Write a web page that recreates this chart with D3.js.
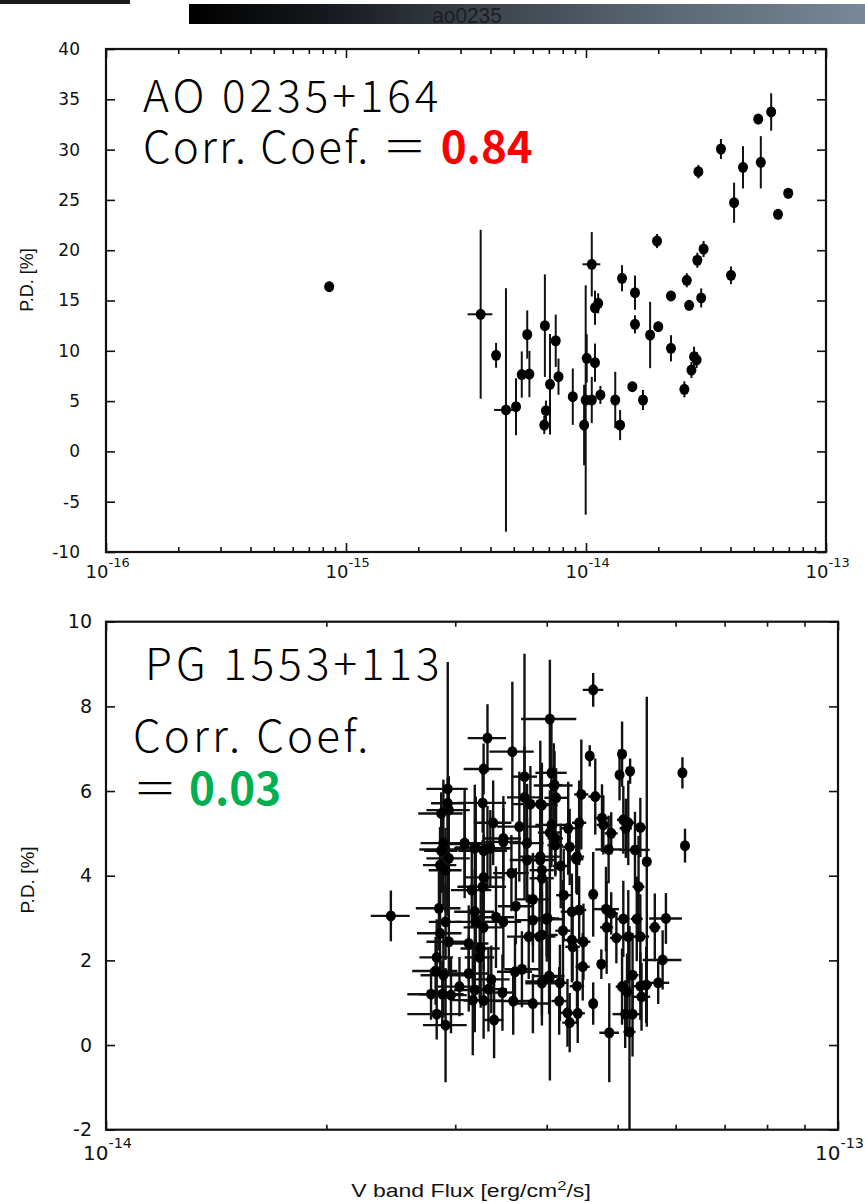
<!DOCTYPE html>
<html><head><meta charset="utf-8">
<script src="https://cdn.jsdelivr.net/npm/d3@7"></script>
<style>body{margin:0;background:#fff}svg{display:block}</style>
</head><body>
<svg id="c" width="865" height="1203"></svg>
<script>
// ---------------- DATA ----------------
// AO 0235+164 : V band flux [erg/cm2/s], polarization degree [%]
const aoFlux = [8.51e-16,3.64e-15,4.22e-15,4.64e-15,5.11e-15,5.40e-15,5.69e-15,5.81e-15,6.74e-15,7.48e-15,
  7.08e-15,6.81e-15,6.70e-15,7.68e-15,8.81e-15,1.007e-14,9.82e-15,9.97e-15,1.057e-14,1.09e-14,
  1.057e-14,1.09e-14,1.124e-14,1.148e-14,1.324e-14,1.387e-14,1.413e-14,1.60e-14,1.60e-14,1.56e-14,
  1.728e-14,1.85e-14,2.0e-14,1.977e-14,2.26e-14,2.26e-14,2.63e-14,2.69e-14,2.57e-14,2.82e-14,
  2.89e-14,2.75e-14,3.02e-14,2.91e-14,3.09e-14,2.94e-14,3.65e-14,4.02e-14,4.14e-14,4.51e-14,
  5.22e-14,5.35e-14,5.91e-14,6.31e-14,6.96e-14];
const aoPD = [16.37,13.63,9.55,4.12,4.44,7.64,11.62,7.69,12.5,11.0,
  6.67,4.05,2.62,7.43,5.44,9.25,2.62,5.11,5.11,8.82,
  18.6,14.28,14.72,5.61,5.11,2.62,17.21,15.78,12.63,6.43,
  5.11,11.57,12.4,20.91,15.45,10.25,17.01,14.52,6.17,9.41,
  9.09,8.09,15.25,19.0,20.12,27.8,30.06,17.5,24.72,28.24,
  33.04,28.74,33.74,23.57,25.66];
const aoPDErr = [0.5,8.4,1.24,12.1,2.83,2.3,2.4,2.3,5.1,2.6,
  5.0,1.0,0.9,1.8,2.8,2.4,4.0,11.4,2.3,1.9,
  3.2,1.7,1.0,0.9,2.8,1.5,1.3,1.7,0.9,0.5,
  1.0,3.3,0.5,0.7,0.5,1.3,0.7,0.5,0.8,1.0,
  0.8,0.8,0.95,0.75,0.8,0.67,1.0,0.87,2.0,2.1,
  0.5,2.6,1.86,0.5,0.5];
const aoFluxErr = [0,0.43e-15,0,0.5e-15,0,0,0,0,0,0,
  0,0,0,0,0,0,0,0,0,0,
  0.09e-14,0,0,0,0,0,0,0,0,0,
  0,0,0,0,0,0,0,0,0,0,
  0,0,0,0,0,0,0,0,0,0,
  0,0,0,0,0];

// PG 1553+113 : flux in units of 1e-14 erg/cm2/s
const pgFluxUnit = 1e-14;
const pgFlux = [2.93,2.93,2.87,2.94,3.32,3.28,3.59,4.04,3.73,3.27,
  3.38,3.73,3.80,3.92,4.06,4.09,3.09,3.19,3.28,3.35,
  3.49,3.67,3.76,2.89,2.87,4.06,3.92,4.63,4.58,5.07,
  5.03,5.20,5.48,6.13,6.18,4.10,4.12,3.94,4.46,4.66,
  4.43,4.76,4.78,4.90,5.09,5.17,5.13,5.37,4.28,4.30,
  4.04,4.11,4.86,5.28,4.40,4.39,4.18,4.11,3.94,5.34,
  4.63,4.22,3.94,4.82,4.90,4.33,4.43,4.00,5.09,5.31,
  5.82,4.83,4.98,5.17,5.37,5.62,4.21,4.33,4.49,4.34,
  3.94,4.75,4.48,5.76,5.24,5.07,5.37,5.68,5.47,5.15,
  5.39,4.04,4.17,4.40,3.94,4.16,4.63,4.27,4.41,4.30,
  5.12,5.24,4.87,5.19,2.45,2.85,2.91,2.86,2.94,2.83,
  2.82,2.89,2.78,2.88,2.96,2.83,2.91,2.88,2.94,2.86,
  2.91,3.09,3.20,3.32,3.49,3.28,3.58,3.16,3.27,3.19,
  3.41,3.63,3.76,3.92,3.83,3.20,3.28,3.78,3.91,4.00,
  3.13,3.25,3.24,3.13,3.04,3.19,3.36,3.33,3.48,3.62,
  3.70,3.60,3.83,3.94,4.03,3.17,3.28,3.39,3.49,3.83,4.01];
const pgPD = [6.05,5.71,5.47,5.55,7.25,6.52,6.93,7.70,6.34,5.72,
  5.25,5.85,5.69,5.69,6.43,6.13,4.77,4.65,4.59,4.65,
  4.88,5.16,4.77,4.77,4.59,5.20,4.45,8.39,6.83,6.87,
  6.38,6.47,4.33,6.43,4.71,6.14,5.84,5.67,5.92,5.87,
  5.25,5.36,5.20,5.00,5.32,5.25,5.12,5.14,5.12,4.68,
  5.02,4.88,4.62,4.61,4.45,4.39,4.23,4.72,4.13,3.74,
  3.56,3.54,3.94,3.21,3.11,3.15,3.19,2.99,2.98,2.98,
  2.99,2.78,2.53,2.56,2.56,2.78,2.70,2.48,2.44,2.32,
  2.60,1.91,1.85,2.01,1.65,1.38,1.39,1.47,1.42,1.26,
  1.14,1.61,1.47,1.39,1.46,1.04,0.98,0.76,0.75,0.53,
  0.73,0.73,0.29,0.31,3.05,3.23,2.91,2.64,2.44,2.07,
  1.75,1.65,1.20,1.20,1.18,0.73,0.47,4.62,4.41,4.25,
  4.13,4.75,4.67,4.65,4.80,3.96,4.06,3.66,3.74,3.15,
  3.02,3.28,4.37,4.37,3.44,2.91,2.78,2.56,2.56,2.97,
  2.40,2.28,2.07,1.69,1.38,1.30,1.55,1.32,1.24,1.73,
  1.79,1.04,0.98,1.50,1.63,1.06,1.05,0.59,2.91,2.95,2.99];
const pgFluxErr = [0.19,0.15,0.20,0.20,0.20,0.20,0.25,0.35,0.15,0.25,
  0.20,0.20,0.20,0.20,0.20,0.25,0.20,0.20,0.25,0.20,
  0.20,0.25,0.20,0.20,0.15,0.20,0.25,0.15,0.05,0.05,
  0.05,0.05,0.05,0.05,0.05,0.10,0.15,0.20,0.10,0.10,
  0.10,0.10,0.10,0.10,0.10,0.10,0.10,0.10,0.10,0.10,
  0.15,0.10,0.20,0.25,0.10,0.10,0.10,0.10,0.15,0.10,
  0.05,0.10,0.15,0.20,0.10,0.15,0.10,0.10,0.10,0.10,
  0.30,0.10,0.10,0.20,0.15,0.10,0.10,0.10,0.10,0.10,
  0.20,0.05,0.10,0.35,0.10,0.10,0.15,0.20,0.10,0.10,
  0.15,0.10,0.10,0.10,0.20,0.10,0.05,0.10,0.10,0.10,
  0.20,0.15,0.15,0.10,0.15,0.20,0.15,0.20,0.20,0.15,
  0.20,0.20,0.20,0.20,0.15,0.25,0.20,0.20,0.20,0.15,
  0.15,0.20,0.20,0.25,0.20,0.20,0.20,0.20,0.25,0.20,
  0.20,0.20,0.20,0.20,0.20,0.20,0.20,0.25,0.20,0.20,
  0.20,0.20,0.15,0.20,0.20,0.20,0.20,0.20,0.15,0.20,
  0.20,0.20,0.20,0.20,0.20,0.20,0.20,0.10,0.20,0.20,0.15];
const pgPDErr = [3.0,0.6,0.5,0.8,0.8,0.6,1.65,1.4,2.9,0.7,
  1.0,1.2,0.9,1.5,1.2,1.0,1.3,1.5,1.2,0.9,
  1.0,1.3,1.4,1.5,1.0,1.0,1.1,0.4,0.25,0.77,
  0.6,0.3,3.9,0.37,0.4,0.8,0.7,1.0,1.3,0.9,
  1.0,0.8,0.7,0.5,0.8,1.0,0.7,0.7,1.1,0.9,
  1.0,0.9,0.8,0.9,0.9,0.8,1.0,0.7,1.0,1.2,
  1.0,1.1,1.0,1.0,0.5,0.9,0.8,0.9,0.9,1.0,
  0.6,1.1,0.6,1.1,1.0,0.8,1.2,1.0,0.9,0.8,
  1.0,0.35,0.8,0.7,1.0,0.9,0.8,0.5,0.9,0.9,
  0.8,2.45,0.9,0.9,1.0,0.8,0.5,0.8,0.7,0.7,
  0.8,1.0,1.17,2.5,0.6,1.0,0.9,1.0,0.8,0.9,
  0.8,1.0,0.6,0.8,0.9,0.6,1.35,1.0,1.2,0.9,
  1.0,1.0,1.2,1.0,0.8,1.0,0.9,0.9,1.1,1.0,
  1.2,0.9,1.0,0.9,1.1,0.9,1.0,1.0,0.9,1.0,
  0.9,1.4,1.0,0.9,0.7,1.0,0.8,1.0,0.9,0.8,
  0.9,0.8,0.7,0.8,0.9,1.3,0.9,0.9,1.1,1.0,0.9];

const aoYTicks = [-10,-5,0,5,10,15,20,25,30,35,40];
const pgYTicks = [-2,0,2,4,6,8,10];
const yLabel = "P.D. [%]";
const xLabel = "V band Flux [erg/cm";

// ---------------- DRAW ----------------
const svg = d3.select("#c");
const defs = svg.append("defs");
const tickFont = "DejaVu Sans, Liberation Sans, sans-serif";
const titleFont = "'Noto Sans CJK JP', 'Noto Sans', sans-serif";
const fmtHyphen = d => String(d); // plain hyphen-minus as in the original

// header bars
const grad = defs.append("linearGradient").attr("id","hdr").attr("x1","0").attr("x2","1").attr("y1","0").attr("y2","0");
[[0,"#000000"],[0.2,"#15181c"],[0.42,"#3a4148"],[0.7,"#5a6774"],[1,"#768899"]].forEach(s=>
  grad.append("stop").attr("offset",s[0]).attr("stop-color",s[1]));
svg.append("rect").attr("x",0).attr("y",0).attr("width",130).attr("height",4).attr("fill","#1c1a1a");
svg.append("rect").attr("x",189).attr("y",4).attr("width",676).attr("height",20).attr("fill","url(#hdr)");
svg.append("text").attr("transform","translate(467,23) scale(0.95,1)").attr("text-anchor","middle")
  .attr("font-family","'Liberation Sans', sans-serif").attr("font-size",22)
  .attr("fill","#1c1e21").text("ao0235");

function panel(cfg){
  const x = d3.scaleLog().domain(cfg.xDomain).range([cfg.left, cfg.right]);
  const y = d3.scaleLinear().domain(cfg.yDomain).range([cfg.bottom, cfg.top]);
  const g = svg.append("g");
  defs.append("clipPath").attr("id", cfg.id+"clip").append("rect")
    .attr("x",cfg.left).attr("y",cfg.top).attr("width",cfg.right-cfg.left).attr("height",cfg.bottom-cfg.top);

  const lo = Math.round(Math.log10(cfg.xDomain[0])), hi = Math.round(Math.log10(cfg.xDomain[1]));
  const xt = [];
  for(let d=lo; d<hi; d++) for(let k=1;k<=9;k++) xt.push(k*Math.pow(10,d));
  xt.push(Math.pow(10,hi));
  const isMajor = v => Math.abs(Math.log10(v) - Math.round(Math.log10(v))) < 1e-9;

  // bottom x axis
  const gb = g.append("g").attr("transform",`translate(0,${cfg.bottom})`)
    .call(d3.axisBottom(x).tickValues(xt).tickSize(-cfg.tickLen).tickSizeOuter(0).tickFormat(""));
  gb.select(".domain").remove();
  gb.selectAll(".tick line").attr("stroke","#111").attr("stroke-width",1.6);
  gb.selectAll(".tick").filter(d=>!isMajor(d)).select("line").attr("y2",-cfg.minorLen);
  const maj = gb.selectAll(".tick").filter(d=>isMajor(d));
  maj.append("text").attr("x",2).attr("y",cfg.xLabDy).attr("text-anchor","end")
    .attr("font-family",tickFont).attr("font-size",cfg.xFs).attr("fill","#111").text("10");
  maj.append("text").attr("x",2).attr("y",cfg.xLabDy-cfg.xFs*0.6).attr("text-anchor","start")
    .attr("font-family",tickFont).attr("font-size",cfg.xFs*0.72).attr("fill","#111")
    .text(d=>fmtHyphen(Math.round(Math.log10(d))));
  // top x axis
  const gt = g.append("g").attr("transform",`translate(0,${cfg.top})`)
    .call(d3.axisTop(x).tickValues(xt).tickSize(-cfg.tickLen).tickSizeOuter(0).tickFormat(""));
  gt.select(".domain").remove();
  gt.selectAll(".tick line").attr("stroke","#111").attr("stroke-width",1.6);
  gt.selectAll(".tick").filter(d=>!isMajor(d)).select("line").attr("y2",cfg.minorLen);
  // left y axis
  const gl = g.append("g").attr("transform",`translate(${cfg.left},0)`)
    .call(d3.axisLeft(y).tickValues(cfg.yTicks).tickSize(-cfg.tickLen).tickSizeOuter(0).tickPadding(cfg.yPad).tickFormat(fmtHyphen));
  gl.select(".domain").remove();
  gl.selectAll(".tick line").attr("stroke","#111").attr("stroke-width",1.6);
  gl.selectAll(".tick text").attr("font-family",tickFont).attr("font-size",cfg.yFs).attr("fill","#111");
  // right y axis
  const gr = g.append("g").attr("transform",`translate(${cfg.right},0)`)
    .call(d3.axisRight(y).tickValues(cfg.yTicks).tickSize(-cfg.tickLen).tickSizeOuter(0).tickFormat(""));
  gr.select(".domain").remove();
  gr.selectAll(".tick line").attr("stroke","#111").attr("stroke-width",1.6);
  // frame
  g.append("rect").attr("x",cfg.left).attr("y",cfg.top).attr("width",cfg.right-cfg.left).attr("height",cfg.bottom-cfg.top)
    .attr("fill","none").attr("stroke","#111").attr("stroke-width",2.2);
  // y label
  g.append("text").attr("transform",`translate(${cfg.yLabX},${cfg.yLabY}) rotate(-90)`).attr("text-anchor","middle")
    .attr("font-family","Liberation Sans, Arial, sans-serif").attr("font-size",cfg.yLabFs).attr("fill","#111").text(yLabel);

  // data
  const pts = cfg.flux.map((f,i)=>({f, p:cfg.pd[i], fe:cfg.fluxErr[i], pe:cfg.pdErr[i]}));
  const dg = g.append("g").attr("clip-path",`url(#${cfg.id}clip)`);
  dg.selectAll("line.v").data(pts).join("line").attr("class","v")
    .attr("x1",d=>x(d.f)).attr("x2",d=>x(d.f)).attr("y1",d=>y(d.p-d.pe)).attr("y2",d=>y(d.p+d.pe))
    .attr("stroke","#111").attr("stroke-width",cfg.sw);
  dg.selectAll("line.h").data(pts.filter(d=>d.fe>0)).join("line").attr("class","h")
    .attr("x1",d=>x(d.f-d.fe)).attr("x2",d=>x(d.f+d.fe)).attr("y1",d=>y(d.p)).attr("y2",d=>y(d.p))
    .attr("stroke","#111").attr("stroke-width",cfg.sw);
  dg.selectAll("ellipse").data(pts).join("ellipse")
    .attr("cx",d=>x(d.f)).attr("cy",d=>y(d.p)).attr("rx",cfg.r).attr("ry",cfg.r*1.1).attr("fill","#000");
  return {x,y};
}

panel({id:"ao", left:106, right:826, top:49, bottom:552, xDomain:[1e-16,1e-13], yDomain:[-10,40],
  yTicks:aoYTicks, tickLen:9, minorLen:5, xLabDy:26, xFs:18, yFs:17, yPad:26,
  yLabX:33, yLabY:280, yLabFs:18, flux:aoFlux, pd:aoPD, fluxErr:aoFluxErr, pdErr:aoPDErr, r:5, sw:2});

panel({id:"pg", left:106, right:838, top:621.7, bottom:1129.7, xDomain:[1e-14,1e-13], yDomain:[-2,10],
  yTicks:pgYTicks, tickLen:9, minorLen:5, xLabDy:30, xFs:20, yFs:19, yPad:14,
  yLabX:34, yLabY:880, yLabFs:19,
  flux:pgFlux.map(v=>v*pgFluxUnit), pd:pgPD, fluxErr:pgFluxErr.map(v=>v*pgFluxUnit), pdErr:pgPDErr, r:5, sw:2.4});

// x axis label (bottom panel), horizontally stretched like the original
const xl = svg.append("text").attr("transform","translate(471,1197) scale(1.28,1)").attr("text-anchor","middle")
  .attr("font-family","Liberation Sans, Arial, sans-serif").attr("font-size",18).attr("fill","#111");
xl.append("tspan").text(xLabel);
xl.append("tspan").attr("dy",-7).attr("font-size",13).text("2");
xl.append("tspan").attr("dy",7).text("/s]");

// annotations
function note(xp, yp, parts, fs){
  const t = svg.append("text").attr("x",xp).attr("y",yp).attr("font-family",titleFont).attr("font-size",fs).attr("fill","#000");
  parts.forEach(p=>{
    const s = t.append("tspan").attr("font-weight",p.b?700:300).attr("fill",p.c||"#000").attr("letter-spacing",p.ls||0).text(p.t);
    if(p.dx) s.attr("dx",p.dx);
  });
  return t;
}
note(143,112,[{t:"AO 0235+164",ls:4}],44);
note(143,163,[{t:"Corr. Coef. ＝ ",ls:2.2},{t:"0.84",b:1,c:"#ff0000"}],44);
note(145,680,[{t:"PG 1553+113",ls:4}],44);
note(133,752,[{t:"Corr. Coef.",ls:3.2}],44);
note(133,805,[{t:"＝"},{t:"0.03",b:1,c:"#00b050",dx:12}],44);
</script>
</body></html>
